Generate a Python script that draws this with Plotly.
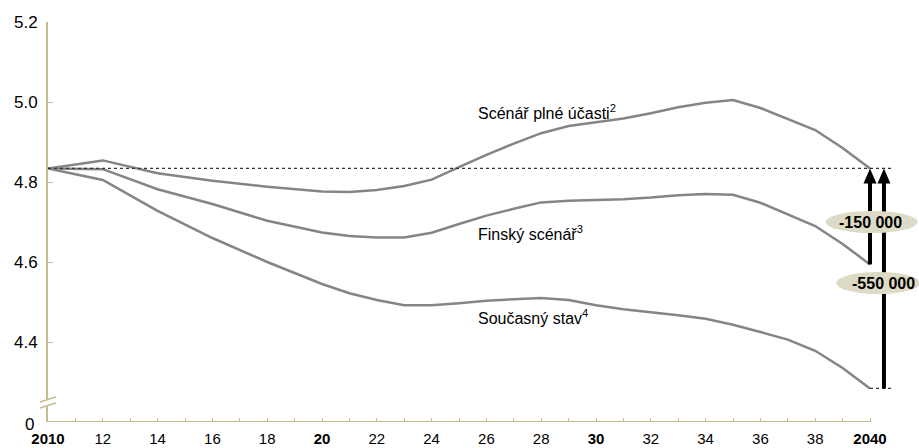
import plotly.graph_objects as go

# Population projections (millions), 2010-2040
years = [2010, 2012, 2014, 2016, 2018, 2020, 2021, 2022, 2023, 2024, 2025,
         2026, 2027, 2028, 2029, 2030, 2031, 2032, 2033, 2034, 2035, 2036,
         2037, 2038, 2039, 2040]
full_participation = [4.834, 4.854, 4.822, 4.803, 4.788, 4.776, 4.775, 4.780,
                      4.790, 4.806, 4.837, 4.868, 4.896, 4.922, 4.940, 4.950,
                      4.959, 4.972, 4.987, 4.998, 5.005, 4.985, 4.958, 4.930,
                      4.885, 4.834]
finnish = [4.834, 4.832, 4.782, 4.745, 4.703, 4.674, 4.665, 4.661, 4.661,
           4.673, 4.695, 4.716, 4.733, 4.749, 4.753, 4.755, 4.757, 4.761,
           4.767, 4.770, 4.768, 4.748, 4.720, 4.690, 4.645, 4.594]
status_quo = [4.834, 4.805, 4.728, 4.660, 4.600, 4.545, 4.522, 4.505, 4.492,
              4.492, 4.497, 4.503, 4.507, 4.510, 4.505, 4.492, 4.482, 4.475,
              4.467, 4.458, 4.443, 4.425, 4.406, 4.378, 4.335, 4.284]

series_labels = ["Scénář plné účasti<sup>2</sup>", "Finský scénář<sup>3</sup>",
                 "Současný stav<sup>4</sup>"]
gap_labels = ["-150 000", "-550 000"]

label_years = list(range(2010, 2041, 2))
odd_years = list(range(2011, 2041, 2))
bold_years = {2010: "2010", 2020: "20", 2030: "30", 2040: "2040"}
tick_text = []
for y in label_years:
    if y in bold_years:
        tick_text.append("<b>%s</b>" % bold_years[y])
    else:
        tick_text.append(str(y % 100))

y_ticks = [4.4, 4.6, 4.8, 5.0, 5.2]
y_tick_text = ["4.4", "4.6", "4.8", "5.0", "5.2"]

AXIS = "#c6bd8e"
LINE = "#858585"
OVAL = "#dddbc6"
FONT = "Liberation Sans, Arial, sans-serif"

base = full_participation[0]
end_x = years[-1]

fig = go.Figure()
for vals in (full_participation, finnish, status_quo):
    fig.add_trace(go.Scatter(x=years, y=vals, mode="lines",
                             line=dict(color=LINE, width=2.5),
                             hoverinfo="skip", showlegend=False))

shapes = []
# reference level and its end marker
shapes.append(dict(type="line", xref="x", yref="y", x0=years[0], x1=end_x + 0.84,
                   y0=base, y1=base, line=dict(color="#333333", width=1.2, dash="dot")))
shapes.append(dict(type="line", xref="x", yref="y", x0=end_x, x1=end_x + 0.84,
                   y0=status_quo[-1], y1=status_quo[-1],
                   line=dict(color="#333333", width=1.2, dash="dot")))
# x axis line up to 2040
shapes.append(dict(type="line", xref="x", yref="y", x0=years[0], x1=end_x,
                   y0=4.2, y1=4.2, line=dict(color=AXIS, width=2)))
# axis break marks
shapes.append(dict(type="path", xref="paper", yref="y", xsizemode="pixel",
                   xanchor=0, ysizemode="pixel", yanchor=4.2,
                   path="M -8,14 L 8,19 L 8,25 L -8,20 Z",
                   fillcolor="white", line=dict(width=0)))
for off in (14, 20):
    shapes.append(dict(type="path", xref="paper", yref="y", xsizemode="pixel",
                       xanchor=0, ysizemode="pixel", yanchor=4.2,
                       path="M -8,%d L 8,%d" % (off, off + 5),
                       line=dict(color=AXIS, width=1.5)))

# arrows showing the gap to the reference level
arrow_x = [end_x, end_x + 0.51]
arrow_from = [finnish[-1], status_quo[-1]]
for ax, y0 in zip(arrow_x, arrow_from):
    shapes.append(dict(type="line", xref="x", yref="y", x0=ax, x1=ax,
                       y0=y0, y1=base - 0.03, line=dict(color="black", width=4)))
    shapes.append(dict(type="path", xref="x", yref="y", xsizemode="pixel",
                       xanchor=ax, ysizemode="pixel", yanchor=base,
                       path="M 0,0 L 6.5,-15 L -6.5,-15 Z",
                       fillcolor="black", line=dict(width=0)))

# ovals behind the gap labels
oval_x = [end_x + 0.06, end_x + 0.3]
oval_y = [4.70, 4.5475]
oval_w = [46, 42]
for ox, oy, ow in zip(oval_x, oval_y, oval_w):
    shapes.append(dict(type="circle", xref="x", yref="y", xsizemode="pixel",
                       xanchor=ox, x0=-ow, x1=ow, ysizemode="pixel", yanchor=oy,
                       y0=-11, y1=11, fillcolor=OVAL, line=dict(width=0)))

annotations = []
label_x = 2025.62
label_y = [4.975, 4.6725, 4.4625]
for txt, ly in zip(series_labels, label_y):
    annotations.append(dict(x=label_x, y=ly, xref="x", yref="y", text=txt,
                            showarrow=False, xanchor="left", yanchor="middle",
                            font=dict(family=FONT, size=16, color="black")))
text_x = [end_x + 0.02, end_x + 0.48]
for txt, tx, ty in zip(gap_labels, text_x, oval_y):
    annotations.append(dict(x=tx, y=ty, xref="x", yref="y", text="<b>%s</b>" % txt,
                            showarrow=False, xanchor="center", yanchor="middle",
                            font=dict(family=FONT, size=16, color="black")))
annotations.append(dict(x=0, y=4.2, xref="paper", yref="y", text="0",
                        showarrow=False, xanchor="right", yanchor="middle",
                        xshift=-12, yshift=-2,
                        font=dict(family=FONT, size=17, color="black")))

px_per_year = 27.4
plot_w = 919 - 48
fig.update_layout(
    width=919, height=448,
    margin=dict(l=48, r=0, t=22, b=26),
    paper_bgcolor="white", plot_bgcolor="white",
    shapes=shapes, annotations=annotations,
    xaxis=dict(range=[2010, 2010 + plot_w / px_per_year], showgrid=False,
               zeroline=False, showline=False, tickvals=label_years,
               ticktext=tick_text, ticks="inside", ticklen=4, tickwidth=1,
               tickcolor=AXIS, tickfont=dict(family=FONT, size=15, color="black"),
               minor=dict(tickvals=odd_years, ticks="inside", ticklen=4,
                          tickwidth=1, tickcolor=AXIS, showgrid=False),
               ticklabelstandoff=6, automargin=False),
    yaxis=dict(range=[4.2, 5.2], showgrid=False, zeroline=False, showline=True,
               linecolor=AXIS, linewidth=2, tickvals=y_ticks, ticktext=y_tick_text,
               ticks="inside", ticklen=5, tickwidth=1, tickcolor=AXIS,
               tickfont=dict(family=FONT, size=17, color="black"),
               ticklabelstandoff=5, automargin=False),
)

fig.write_html("out.html")
